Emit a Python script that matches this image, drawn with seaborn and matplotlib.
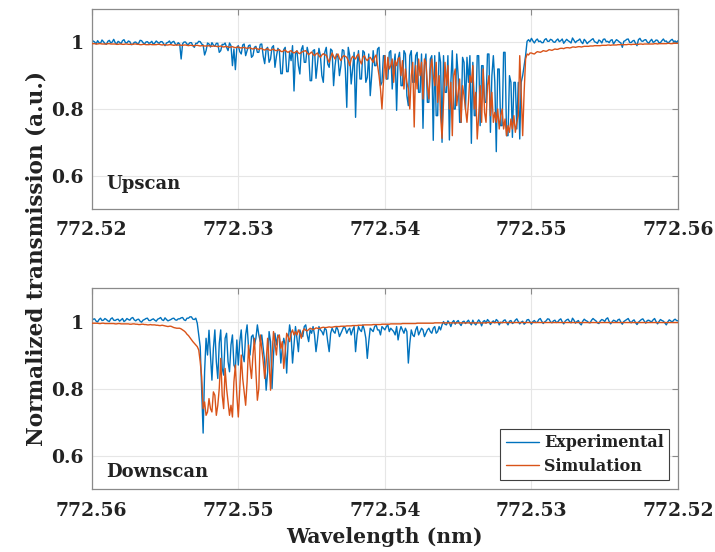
import numpy as np
import matplotlib
matplotlib.use("Agg")
import matplotlib.pyplot as plt
import seaborn as sns
from matplotlib.ticker import FuncFormatter

# ---------------- data ----------------
x_ticks = [772.52, 772.53, 772.54, 772.55, 772.56]
y_ticks = [0.6, 0.8, 1.0]
series_names = ["Experimental", "Simulation"]
panel_names = ["Upscan", "Downscan"]

# Upscan: wavelength increasing from 772.52 to 772.56 (401 samples)
exp_up = [
    0.998, 1.004, 1.001, 0.995, 1.005, 0.999, 0.997, 1.007, 1.002, 0.996, 0.994, 1.003, 1.006, 0.998, 1.001, 1.009, 0.999, 0.995, 1.003, 1.000,
    0.996, 1.005, 1.008, 0.999, 0.998, 1.004, 1.002, 0.993, 0.994, 1.000, 1.001, 0.996, 0.997, 1.006, 1.005, 0.999, 0.995, 1.001, 1.002, 0.997,
    0.999, 1.003, 0.994, 0.998, 1.004, 1.000, 0.997, 1.002, 1.002, 0.996, 0.990, 0.998, 1.000, 1.004, 0.996, 1.001, 1.003, 0.995, 0.992, 0.999,
    0.995, 0.950, 0.996, 1.001, 1.001, 0.994, 0.994, 0.999, 0.999, 0.990, 0.985, 0.997, 0.997, 1.003, 1.002, 0.995, 0.992, 0.962, 0.975, 0.998,
    0.995, 0.986, 0.999, 0.992, 0.988, 0.997, 0.997, 0.970, 0.975, 0.994, 0.993, 0.998, 0.985, 0.975, 0.998, 0.990, 0.930, 0.980, 0.918, 0.985,
    0.990, 0.972, 0.965, 0.992, 0.995, 0.960, 0.975, 0.990, 0.992, 0.955, 0.960, 0.985, 0.988, 0.970, 0.970, 0.994, 0.995, 0.958, 0.936, 0.980,
    0.985, 0.940, 0.950, 0.985, 0.990, 0.925, 0.958, 0.982, 0.975, 0.906, 0.906, 0.978, 0.985, 0.912, 0.912, 0.970, 0.945, 0.990, 0.854, 0.965,
    0.975, 0.930, 0.905, 0.978, 0.990, 0.940, 0.940, 0.985, 0.965, 0.885, 0.885, 0.975, 0.978, 0.892, 0.935, 0.982, 0.960, 0.900, 0.880, 0.970,
    0.985, 0.935, 0.925, 0.980, 0.975, 0.870, 0.930, 0.965, 0.955, 0.900, 0.930, 0.978, 0.975, 0.920, 0.805, 0.985, 0.960, 0.875, 0.920, 0.970,
    0.775, 0.930, 0.975, 0.890, 0.890, 0.975, 0.970, 0.880, 0.895, 0.965, 0.840, 0.900, 0.975, 0.930, 0.930, 0.980, 0.985, 0.870, 0.880, 0.960,
    0.960, 0.890, 0.890, 0.970, 0.975, 0.860, 0.930, 0.965, 0.796, 0.950, 0.970, 0.870, 0.870, 0.975, 0.965, 0.840, 0.810, 0.960, 0.975, 0.880,
    0.880, 0.960, 0.970, 0.850, 0.850, 0.965, 0.742, 0.930, 0.965, 0.820, 0.820, 0.950, 0.960, 0.706, 0.960, 0.780, 0.780, 0.970, 0.940, 0.700,
    0.960, 0.850, 0.850, 0.960, 0.707, 0.880, 0.975, 0.800, 0.800, 0.965, 0.900, 0.760, 0.760, 0.955, 0.940, 0.800, 0.955, 0.880, 0.960, 0.697,
    0.940, 0.780, 0.780, 0.960, 0.960, 0.750, 0.930, 0.930, 0.820, 0.820, 0.965, 0.965, 0.730, 0.900, 0.960, 0.880, 0.672, 0.920, 0.920, 0.750,
    0.750, 0.970, 0.970, 0.720, 0.720, 0.900, 0.880, 0.715, 0.880, 0.880, 0.740, 0.880, 0.710, 0.880, 0.900, 0.930, 0.960, 1.003, 1.008, 1.002,
    1.012, 1.004, 0.998, 1.006, 1.010, 1.002, 1.004, 0.999, 0.999, 1.008, 1.011, 1.003, 1.003, 1.009, 1.007, 1.001, 1.000, 1.006, 1.010, 1.002,
    1.005, 1.010, 0.997, 1.003, 1.009, 1.005, 1.002, 0.998, 1.013, 1.006, 0.999, 1.004, 1.006, 1.010, 1.001, 0.996, 1.009, 1.004, 0.996, 1.001,
    1.004, 1.008, 1.011, 1.002, 1.000, 0.997, 1.007, 1.004, 0.998, 1.009, 1.010, 1.002, 1.003, 0.999, 1.006, 1.008, 0.995, 1.002, 1.008, 1.005,
    1.001, 0.998, 0.985, 1.003, 1.005, 1.009, 1.010, 1.000, 0.999, 1.004, 1.006, 0.997, 0.990, 1.008, 1.012, 1.004, 1.003, 1.007, 1.008, 1.001,
    0.997, 1.004, 1.009, 1.000, 1.002, 1.007, 1.006, 0.999, 0.999, 1.005, 1.010, 1.003, 1.004, 0.998, 1.001, 1.006, 1.009, 1.002, 1.004, 1.000,
    1.005,
]
sim_up = [
    0.996, 0.996, 0.996, 0.995, 0.995, 0.996, 0.996, 0.995, 0.995, 0.995, 0.995, 0.996, 0.996, 0.995, 0.995, 0.995, 0.995, 0.994, 0.994, 0.995,
    0.995, 0.994, 0.994, 0.995, 0.995, 0.994, 0.994, 0.994, 0.994, 0.995, 0.995, 0.994, 0.994, 0.993, 0.993, 0.994, 0.994, 0.993, 0.993, 0.993,
    0.994, 0.993, 0.993, 0.993, 0.993, 0.994, 0.994, 0.993, 0.992, 0.993, 0.993, 0.992, 0.992, 0.993, 0.993, 0.992, 0.991, 0.992, 0.992, 0.992,
    0.992, 0.991, 0.991, 0.992, 0.992, 0.991, 0.990, 0.991, 0.991, 0.990, 0.990, 0.991, 0.991, 0.990, 0.989, 0.990, 0.990, 0.989, 0.989, 0.989,
    0.990, 0.989, 0.988, 0.989, 0.989, 0.988, 0.987, 0.988, 0.989, 0.987, 0.986, 0.987, 0.988, 0.986, 0.985, 0.986, 0.987, 0.985, 0.984, 0.985,
    0.986, 0.984, 0.983, 0.984, 0.985, 0.983, 0.982, 0.983, 0.984, 0.981, 0.980, 0.982, 0.983, 0.980, 0.979, 0.981, 0.982, 0.978, 0.977, 0.979,
    0.981, 0.977, 0.976, 0.978, 0.980, 0.976, 0.975, 0.977, 0.978, 0.973, 0.972, 0.975, 0.977, 0.972, 0.970, 0.973, 0.975, 0.970, 0.968, 0.971,
    0.974, 0.968, 0.966, 0.970, 0.972, 0.974, 0.975, 0.968, 0.963, 0.967, 0.971, 0.964, 0.960, 0.965, 0.968, 0.960, 0.955, 0.962, 0.966, 0.962,
    0.962, 0.950, 0.940, 0.955, 0.968, 0.958, 0.950, 0.962, 0.965, 0.952, 0.945, 0.956, 0.960, 0.958, 0.955, 0.945, 0.930, 0.950, 0.958, 0.954,
    0.950, 0.960, 0.965, 0.945, 0.935, 0.955, 0.960, 0.950, 0.945, 0.952, 0.955, 0.948, 0.940, 0.955, 0.962, 0.930, 0.900, 0.860, 0.800, 0.880,
    0.960, 0.890, 0.955, 0.920, 0.930, 0.950, 0.880, 0.945, 0.930, 0.950, 0.955, 0.900, 0.945, 0.860, 0.920, 0.880, 0.860, 0.800, 0.900, 0.940,
    0.746, 0.930, 0.860, 0.950, 0.900, 0.940, 0.830, 0.950, 0.940, 0.870, 0.830, 0.920, 0.950, 0.900, 0.870, 0.940, 0.820, 0.900, 0.780, 0.712,
    0.820, 0.940, 0.870, 0.930, 0.800, 0.880, 0.720, 0.900, 0.920, 0.810, 0.850, 0.890, 0.760, 0.870, 0.840, 0.800, 0.760, 0.820, 0.900, 0.880,
    0.930, 0.800, 0.850, 0.710, 0.780, 0.870, 0.760, 0.920, 0.790, 0.760, 0.870, 0.900, 0.780, 0.850, 0.760, 0.790, 0.760, 0.800, 0.740, 0.780,
    0.800, 0.740, 0.770, 0.720, 0.750, 0.730, 0.770, 0.740, 0.780, 0.730, 0.760, 0.780, 0.960, 0.850, 0.720, 0.850, 0.950, 0.965, 0.962, 0.968,
    0.968, 0.966, 0.965, 0.969, 0.972, 0.971, 0.970, 0.972, 0.975, 0.974, 0.973, 0.975, 0.978, 0.977, 0.976, 0.978, 0.980, 0.979, 0.979, 0.981,
    0.982, 0.982, 0.981, 0.983, 0.984, 0.984, 0.983, 0.984, 0.986, 0.986, 0.985, 0.986, 0.987, 0.987, 0.986, 0.987, 0.988, 0.988, 0.988, 0.988,
    0.989, 0.989, 0.989, 0.990, 0.990, 0.990, 0.990, 0.990, 0.991, 0.991, 0.991, 0.991, 0.992, 0.992, 0.991, 0.992, 0.992, 0.992, 0.992, 0.993,
    0.993, 0.993, 0.993, 0.993, 0.993, 0.993, 0.994, 0.994, 0.993, 0.994, 0.994, 0.994, 0.994, 0.994, 0.995, 0.995, 0.994, 0.995, 0.995, 0.995,
    0.995, 0.995, 0.995, 0.995, 0.996, 0.996, 0.995, 0.996, 0.996, 0.996, 0.996, 0.996, 0.996, 0.997, 0.997, 0.996, 0.996, 0.997, 0.997, 0.997,
    0.997,
]

# Downscan: wavelength decreasing from 772.56 to 772.52 (401 samples)
exp_down = [
    1.002, 1.007, 1.008, 1.001, 0.999, 1.006, 1.010, 1.003, 1.004, 1.009, 1.006, 1.002, 1.000, 1.008, 1.011, 1.004, 1.003, 1.006, 1.007, 1.001,
    1.005, 1.009, 1.000, 1.003, 1.009, 1.006, 1.004, 1.010, 1.012, 1.005, 1.002, 1.006, 1.007, 1.001, 0.998, 1.004, 1.006, 1.009, 1.010, 1.003,
    1.003, 1.006, 1.008, 1.004, 1.001, 1.007, 1.009, 1.012, 1.005, 1.003, 1.011, 1.006, 1.002, 1.004, 1.006, 1.009, 1.010, 1.005, 1.004, 1.008,
    1.008, 1.011, 1.012, 1.005, 1.003, 1.010, 1.010, 1.014, 1.014, 1.007, 1.006, 1.010, 0.995, 0.960, 0.925, 0.800, 0.667, 0.850, 0.950, 0.900,
    0.974, 0.900, 0.825, 0.920, 0.975, 0.880, 0.830, 0.935, 0.975, 0.860, 0.840, 0.950, 0.965, 0.880, 0.850, 0.930, 0.960, 0.870, 0.860, 0.945,
    0.870, 0.940, 0.975, 0.900, 0.880, 0.960, 0.990, 0.920, 0.900, 0.955, 0.960, 0.930, 0.950, 0.990, 0.960, 0.940, 0.960, 0.920, 0.880, 0.795,
    0.850, 0.970, 0.940, 0.800, 0.900, 0.965, 0.930, 0.960, 0.950, 0.876, 0.920, 0.950, 0.930, 0.846, 0.940, 0.990, 0.960, 0.876, 0.930, 0.985,
    0.950, 0.910, 0.975, 0.960, 0.955, 0.985, 0.990, 0.960, 0.940, 0.975, 0.965, 0.985, 0.960, 0.910, 0.945, 0.985, 0.975, 0.970, 0.960, 0.980,
    0.975, 0.940, 0.910, 0.965, 0.980, 0.970, 0.965, 0.985, 0.975, 0.955, 0.965, 0.975, 0.985, 0.980, 0.965, 0.975, 0.980, 0.960, 0.975, 0.985,
    0.910, 0.960, 0.985, 0.975, 0.970, 0.990, 0.975, 0.950, 0.890, 0.940, 0.980, 0.975, 0.970, 0.985, 0.990, 0.975, 0.975, 0.960, 0.985, 0.980,
    0.975, 0.985, 0.990, 0.970, 0.980, 0.975, 0.970, 0.960, 0.985, 0.945, 0.970, 0.985, 0.975, 0.965, 0.980, 0.970, 0.876, 0.935, 0.975, 0.960,
    0.955, 0.975, 0.985, 0.960, 0.970, 0.980, 0.975, 0.955, 0.965, 0.975, 0.980, 0.970, 0.965, 0.980, 0.985, 0.965, 0.970, 0.985, 0.975, 0.990,
    1.000, 0.992, 0.990, 1.002, 0.996, 0.985, 0.998, 1.003, 0.992, 0.999, 1.003, 0.994, 0.988, 0.999, 1.001, 0.994, 0.999, 1.004, 0.996, 0.990,
    1.004, 0.995, 0.990, 0.998, 1.005, 0.999, 0.987, 1.000, 1.003, 0.995, 1.006, 1.001, 0.991, 0.998, 1.002, 0.996, 1.006, 1.002, 0.990, 0.998,
    0.996, 1.003, 1.005, 0.997, 0.990, 1.001, 1.003, 0.994, 0.997, 1.004, 1.008, 1.000, 0.993, 0.998, 1.001, 0.992, 0.996, 1.005, 1.006, 0.999,
    0.992, 1.000, 1.003, 0.997, 0.998, 1.006, 1.009, 1.001, 0.994, 0.999, 1.002, 1.008, 1.007, 0.999, 0.996, 1.002, 1.004, 0.997, 0.999, 1.005,
    1.008, 0.999, 0.993, 1.001, 1.005, 1.007, 1.000, 0.996, 1.010, 1.004, 0.995, 1.000, 1.003, 0.994, 0.990, 1.001, 1.007, 1.003, 1.001, 0.997,
    0.996, 1.004, 1.009, 1.005, 1.002, 0.996, 0.994, 1.002, 1.006, 1.004, 1.000, 1.008, 1.011, 1.000, 0.993, 0.999, 1.004, 1.002, 0.998, 1.005,
    1.007, 0.998, 0.992, 1.000, 1.003, 1.006, 1.009, 1.001, 0.996, 1.002, 1.005, 0.997, 0.991, 0.998, 1.002, 1.006, 1.008, 1.001, 0.995, 1.003,
    1.004, 1.001, 0.999, 1.005, 1.009, 1.000, 0.993, 1.000, 1.006, 1.003, 1.001, 0.996, 0.990, 0.999, 1.005, 1.002, 0.998, 1.004, 1.007, 1.003,
    1.002,
]
sim_down = [
    0.995, 0.995, 0.995, 0.995, 0.995, 0.994, 0.994, 0.995, 0.995, 0.994, 0.994, 0.994, 0.994, 0.994, 0.994, 0.994, 0.993, 0.993, 0.994, 0.994,
    0.993, 0.993, 0.993, 0.993, 0.993, 0.993, 0.992, 0.992, 0.993, 0.993, 0.992, 0.992, 0.991, 0.991, 0.992, 0.992, 0.991, 0.991, 0.990, 0.990,
    0.991, 0.990, 0.990, 0.990, 0.989, 0.989, 0.988, 0.988, 0.989, 0.988, 0.987, 0.986, 0.985, 0.986, 0.986, 0.984, 0.982, 0.981, 0.980, 0.980,
    0.980, 0.978, 0.975, 0.972, 0.968, 0.962, 0.958, 0.952, 0.946, 0.940, 0.935, 0.930, 0.925, 0.915, 0.880, 0.835, 0.740, 0.760, 0.720, 0.730,
    0.770, 0.740, 0.730, 0.790, 0.780, 0.720, 0.750, 0.800, 0.890, 0.780, 0.740, 0.860, 0.800, 0.760, 0.720, 0.750, 0.715, 0.820, 0.870, 0.780,
    0.715, 0.800, 0.900, 0.830, 0.790, 0.750, 0.820, 0.930, 0.870, 0.830, 0.900, 0.950, 0.850, 0.765, 0.800, 0.960, 0.920, 0.880, 0.830, 0.880,
    0.950, 0.880, 0.795, 0.900, 0.970, 0.935, 0.900, 0.955, 0.960, 0.920, 0.940, 0.860, 0.910, 0.965, 0.955, 0.940, 0.965, 0.975, 0.960, 0.970,
    0.960, 0.975, 0.965, 0.950, 0.972, 0.978, 0.974, 0.972, 0.976, 0.980, 0.978, 0.976, 0.978, 0.981, 0.980, 0.979, 0.980, 0.982, 0.983, 0.982,
    0.982, 0.983, 0.984, 0.983, 0.983, 0.984, 0.985, 0.985, 0.985, 0.985, 0.986, 0.986, 0.986, 0.986, 0.987, 0.987, 0.987, 0.987, 0.988, 0.988,
    0.988, 0.988, 0.989, 0.989, 0.989, 0.989, 0.990, 0.990, 0.990, 0.990, 0.990, 0.990, 0.991, 0.991, 0.991, 0.991, 0.991, 0.991, 0.992, 0.992,
    0.992, 0.992, 0.992, 0.992, 0.993, 0.993, 0.993, 0.993, 0.993, 0.993, 0.993, 0.993, 0.994, 0.994, 0.994, 0.994, 0.994, 0.994, 0.994, 0.994,
    0.994, 0.994, 0.995, 0.995, 0.995, 0.995, 0.995, 0.995, 0.995, 0.995, 0.995, 0.995, 0.995, 0.995, 0.996, 0.996, 0.996, 0.996, 0.996, 0.996,
    0.996, 0.996, 0.996, 0.996, 0.996, 0.996, 0.996, 0.996, 0.996, 0.996, 0.996, 0.996, 0.996, 0.996, 0.996, 0.996, 0.996, 0.996, 0.996, 0.996,
    0.996, 0.996, 0.996, 0.996, 0.996, 0.996, 0.996, 0.996, 0.996, 0.996, 0.997, 0.997, 0.997, 0.997, 0.997, 0.997, 0.997, 0.997, 0.997, 0.997,
    0.997, 0.997, 0.997, 0.997, 0.997, 0.997, 0.997, 0.997, 0.997, 0.997, 0.997, 0.997, 0.997, 0.997, 0.997, 0.997, 0.997, 0.997, 0.997, 0.997,
    0.997, 0.997, 0.997, 0.997, 0.997, 0.997, 0.997, 0.997, 0.997, 0.997, 0.997, 0.997, 0.997, 0.997, 0.997, 0.997, 0.997, 0.997, 0.997, 0.997,
    0.997, 0.997, 0.997, 0.997, 0.997, 0.997, 0.997, 0.997, 0.997, 0.997, 0.997, 0.997, 0.997, 0.997, 0.997, 0.997, 0.997, 0.997, 0.997, 0.997,
    0.997, 0.997, 0.997, 0.997, 0.997, 0.997, 0.997, 0.997, 0.997, 0.997, 0.997, 0.997, 0.997, 0.997, 0.997, 0.997, 0.997, 0.997, 0.997, 0.997,
    0.997, 0.997, 0.997, 0.997, 0.997, 0.997, 0.997, 0.997, 0.997, 0.997, 0.997, 0.997, 0.997, 0.997, 0.997, 0.997, 0.997, 0.997, 0.997, 0.997,
    0.997, 0.997, 0.997, 0.997, 0.997, 0.997, 0.997, 0.997, 0.997, 0.997, 0.997, 0.997, 0.997, 0.997, 0.997, 0.997, 0.997, 0.997, 0.997, 0.997,
    0.997,
]

# ---------------- style ----------------
sns.set_style("white")
plt.rcParams['font.family'] = ['DejaVu Serif']
plt.rcParams['font.weight'] = 'bold'
plt.rcParams['text.color'] = '#222222'
plt.rcParams['xtick.color'] = '#222222'
plt.rcParams['ytick.color'] = '#222222'

BLUE = '#0072BD'
ORANGE = '#D95319'
SPINE = '#8a8a8a'

fig = plt.figure(figsize=(7.15, 5.52), dpi=100)
ax1 = fig.add_axes([0.1283, 0.6214, 0.8200, 0.3623])
ax2 = fig.add_axes([0.1283, 0.1141, 0.8200, 0.3641])

panels = [
    (ax1, exp_up, sim_up, (772.52, 772.56), panel_names[0], 0.100),
    (ax2, exp_down, sim_down, (772.56, 772.52), panel_names[1], 0.058),
]

for ax, e, s, (x0, x1), name, ty in panels:
    xe = np.linspace(x0, x1, len(e))
    xs = np.linspace(x0, x1, len(s))
    sns.lineplot(x=xe, y=e, ax=ax, color=BLUE, linewidth=1.0,
                 estimator=None, sort=False, label=series_names[0], zorder=2)
    sns.lineplot(x=xs, y=s, ax=ax, color=ORANGE, linewidth=1.0,
                 estimator=None, sort=False, label=series_names[1], zorder=3)
    ax.set_xlim(x0, x1)
    ax.set_ylim(0.5, 1.1)
    ax.set_xticks(x_ticks)
    ax.set_yticks(y_ticks)
    ax.xaxis.set_major_formatter(FuncFormatter(lambda v, p: f"{v:.2f}"))
    ax.yaxis.set_major_formatter(FuncFormatter(lambda v, p: f"{v:g}"))
    ax.grid(True, color='#e6e6e6', linewidth=0.8)
    ax.set_axisbelow(True)
    ax.tick_params(direction='in', length=4, width=0.8, colors='#222222',
                   top=True, right=True, labelsize=13.5, pad=6)
    ax.tick_params(axis='x', pad=9)
    ax.tick_params(axis='both', which='both', color=SPINE)
    for sp in ax.spines.values():
        sp.set_color(SPINE)
        sp.set_linewidth(0.9)
        sp.set_visible(True)
    ax.set_xlabel('')
    ax.set_ylabel('')
    ax.text(0.0244, ty, name, transform=ax.transAxes, fontsize=13,
            fontweight='bold', va='baseline', ha='left')

ax1.get_legend().remove()
leg = ax2.legend(loc='lower right', fontsize=11.5, frameon=True, fancybox=False,
                 edgecolor='#404040', framealpha=1, handlelength=2.1,
                 borderaxespad=0.55, labelspacing=0.4, borderpad=0.35,
                 handletextpad=0.3)
leg.get_frame().set_linewidth(0.8)

fig.text(0.0517, 0.5326, 'Normalized transmission (a.u.)', rotation=90,
         ha='center', va='center', fontsize=15.5, fontweight='bold')
fig.text(0.538, 0.0272, 'Wavelength (nm)', ha='center', va='center',
         fontsize=14.7, fontweight='bold')

fig.savefig('out.png', dpi=100)
